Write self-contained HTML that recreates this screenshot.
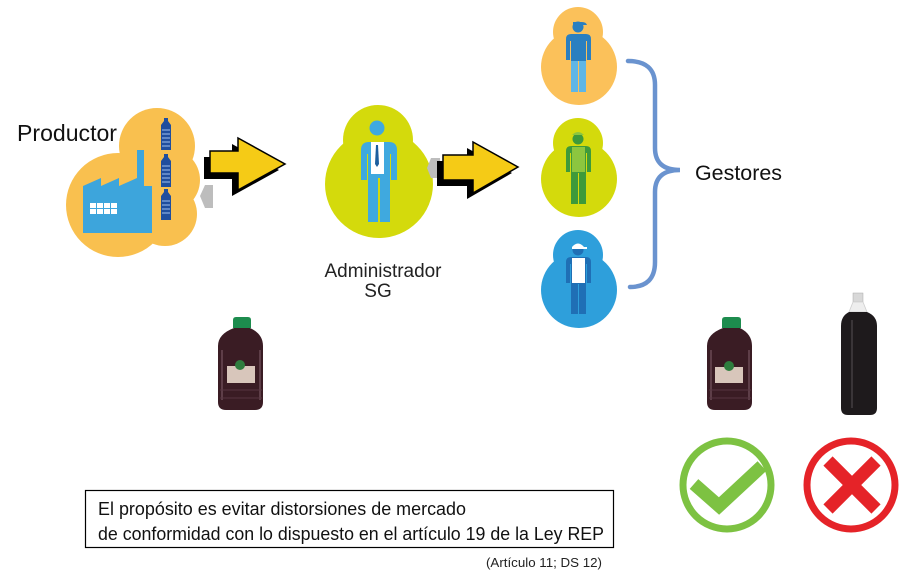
<!DOCTYPE html>
<html><head><meta charset="utf-8"><style>
html,body{margin:0;padding:0;background:#fff;}
svg{display:block;}
text{font-family:"Liberation Sans",Arial,sans-serif;}
</style></head><body>
<svg width="908" height="575" viewBox="0 0 908 575" xmlns="http://www.w3.org/2000/svg">
<rect width="908" height="575" fill="#ffffff"/>

<!-- Productor -->
<text x="17" y="141" font-size="23.5" fill="#111" textLength="100" lengthAdjust="spacingAndGlyphs">Productor</text>
<g fill="#F9C04F">
<circle cx="118" cy="205" r="52"/>
<circle cx="157" cy="146" r="38"/>
<circle cx="168" cy="180" r="32"/>
<circle cx="165" cy="214" r="32"/>
</g>
<!-- factory -->
<g fill="#3DA5DC">
<rect x="137" y="150" width="7" height="40"/>
<polygon points="83,192 83,186 101,178 101,186 119,178 119,186 137,178 137,186 152,186 152,233 83,233"/>
</g>
<g fill="#ffffff">
<rect x="90" y="203" width="6" height="5"/><rect x="97" y="203" width="6" height="5"/><rect x="104" y="203" width="6" height="5"/><rect x="111" y="203" width="6" height="5"/>
<rect x="90" y="209" width="6" height="5"/><rect x="97" y="209" width="6" height="5"/><rect x="104" y="209" width="6" height="5"/><rect x="111" y="209" width="6" height="5"/>
</g>
<!-- small bottles -->
<g fill="#1F4E9E">
<path d="M164,118 h4 v3 l3,4 v25 h-10 v-25 l3,-4z"/>
<path d="M164,154 h4 v3 l3,4 v26 h-10 v-26 l3,-4z"/>
<path d="M164,189 h4 v3 l3,4 v24 h-10 v-24 l3,-4z"/>
</g>
<g stroke="#9fc0ef" stroke-width="1">
<path d="M162,130 h8 M162,134 h8 M162,138 h8 M162,142 h8 M162,146 h8"/>
<path d="M162,166 h8 M162,170 h8 M162,174 h8 M162,178 h8 M162,182 h8"/>
<path d="M162,201 h8 M162,205 h8 M162,209 h8 M162,213 h8"/>
</g>
<!-- grey tab 1 -->
<polygon points="213,185 205,185 200,196 205,208 213,208" fill="#BDBDBD"/>
<!-- arrow 1 -->
<polygon points="204,157 232,157 232,144 279,170 232,196 232,179 204,179" fill="#000"/>
<polygon points="210,151 238,151 238,138 285,164 238,190 238,173 210,173" fill="#F5CB16" stroke="#000" stroke-width="1.5" stroke-linejoin="miter"/>

<!-- Administrador -->
<g fill="#D4DA0C">
<circle cx="379" cy="184" r="54"/>
<circle cx="378" cy="140" r="35"/>
</g>
<g fill="#3FA9DF">
<circle cx="377" cy="128" r="7.5"/>
<path d="M365,142 h24 q8,0 8,8 v30 h-6 v-26 h-1 v24 h-22 v-24 h-1 v26 h-6 v-30 q0,-8 8,-8z"/>
<rect x="368" y="174" width="10" height="48"/>
<rect x="380" y="174" width="10" height="48"/>
</g>
<rect x="371" y="142" width="13" height="32" fill="#fff"/>
<polygon points="376,145 378,145 379,164 377,167 375,164" fill="#1C5E9E"/>
<text x="383" y="277" font-size="19" fill="#222" text-anchor="middle" textLength="117" lengthAdjust="spacingAndGlyphs">Administrador</text>
<text x="378" y="297" font-size="19" fill="#222" text-anchor="middle">SG</text>

<!-- grey tab 2 -->
<polygon points="440,158 431,158 427,168 431,178 440,178" fill="#BDBDBD"/>
<!-- arrow 2 -->
<polygon points="437,161 467,161 467,148 512,173 467,199 467,186 437,186" fill="#000"/>
<polygon points="443,155 473,155 473,142 518,167 473,193 473,180 443,180" fill="#F5CB16" stroke="#000" stroke-width="1.5"/>

<!-- Gestores circles -->
<g fill="#FBC15A">
<circle cx="579" cy="67" r="38"/><circle cx="578" cy="32" r="25"/>
</g>
<g fill="#D4DA0C">
<circle cx="579" cy="179" r="38"/><circle cx="578" cy="143" r="25"/>
</g>
<g fill="#2E9FDB">
<circle cx="579" cy="290" r="38"/><circle cx="578" cy="255" r="25"/>
</g>
<!-- gestor 1 -->
<circle cx="578" cy="27" r="5.5" fill="#2A7FC0"/>
<path d="M573,22 h9 q4,0 5,3 h-14z" fill="#2A7FC0"/>
<path d="M571,34 h15 q5,0 5,5 v21 h-4 v-19 h-1 v20 h-15 v-20 h-1 v19 h-4 v-21 q0,-5 5,-5z" fill="#2A7FC0"/>
<rect x="571" y="61" width="7" height="31" fill="#5FB6E6"/>
<rect x="579" y="61" width="7" height="31" fill="#5FB6E6"/>
<!-- gestor 2 -->
<circle cx="578" cy="139" r="5.5" fill="#3E9A3A"/>
<path d="M572,135 q6,-6 12,0z" fill="#8CC63F"/>
<path d="M571,146 h15 q5,0 5,5 v21 h-4 v-19 h-1 v20 h-15 v-20 h-1 v19 h-4 v-21 q0,-5 5,-5z" fill="#3E9A3A"/>
<rect x="572" y="147" width="13" height="25" fill="#8CC63F"/>
<rect x="571" y="173" width="7" height="31" fill="#3E9A3A"/>
<rect x="579" y="173" width="7" height="31" fill="#3E9A3A"/>
<!-- gestor 3 -->
<circle cx="578" cy="250" r="5.5" fill="#1F6FB5"/>
<path d="M572,247 q6,-7 12,0 h3 v2 h-15z" fill="#ffffff"/>
<path d="M571,257 h15 q5,0 5,5 v21 h-4 v-19 h-1 v20 h-15 v-20 h-1 v19 h-4 v-21 q0,-5 5,-5z" fill="#1F6FB5"/>
<rect x="572" y="258" width="13" height="25" fill="#ffffff"/>
<rect x="571" y="284" width="7" height="30" fill="#1F6FB5"/>
<rect x="579" y="284" width="7" height="30" fill="#1F6FB5"/>

<!-- brace -->
<path d="M628,61 Q655,61 655,85 L655,148 Q655,170 680,170 Q655,170 655,192 L655,262 Q655,287 630,287" fill="none" stroke="#6A93CF" stroke-width="4.5" stroke-linecap="round"/>
<text x="695" y="180" font-size="21.5" fill="#111" textLength="87" lengthAdjust="spacingAndGlyphs">Gestores</text>

<!-- oil bottle left -->
<g>
<path d="M233,320 q0,-3 3,-3 h12 q3,0 3,3 v8 h-18z" fill="#1D8C4E"/>
<path d="M234,328 h16 q13,6 13,18 v56 q0,8 -8,8 h-29 q-8,0 -8,-8 v-56 q0,-12 16,-18z" fill="#3A1C24"/>
<path d="M222,350 v50 M260,350 v50" stroke="#6a4a55" stroke-width="1.5"/>
<path d="M220,390 h42 M220,398 h42" stroke="#55353f" stroke-width="1"/>
<rect x="227" y="366" width="28" height="17" fill="#D8C6BB"/>
<circle cx="240" cy="365" r="5" fill="#2E7D3E"/>
</g>
<!-- oil bottle right -->
<g>
<path d="M722,320 q0,-3 3,-3 h13 q3,0 3,3 v8 h-19z" fill="#1D8C4E"/>
<path d="M723,328 h17 q12,6 12,18 v56 q0,8 -8,8 h-29 q-8,0 -8,-8 v-56 q0,-12 16,-18z" fill="#3A1C24"/>
<path d="M711,350 v50 M749,350 v50" stroke="#6a4a55" stroke-width="1.5"/>
<path d="M709,390 h42 M709,398 h42" stroke="#55353f" stroke-width="1"/>
<rect x="715" y="367" width="28" height="16" fill="#D8C6BB"/>
<circle cx="729" cy="366" r="5" fill="#2E7D3E"/>
</g>
<!-- coke bottle -->
<g>
<rect x="853" y="293" width="10" height="9" fill="#d8d8d8" stroke="#aaa" stroke-width="0.5"/>
<path d="M853,302 h10 l4,10 h-18z" fill="#eeeeee" stroke="#cfcfcf" stroke-width="0.8"/>
<path d="M849,312 h18 q10,4 10,14 v82 q0,7 -7,7 h-22 q-7,0 -7,-7 v-82 q0,-10 8,-14z" fill="#1E1A1C"/>
<path d="M852,320 v88" stroke="#3a3538" stroke-width="2"/>
</g>

<!-- check -->
<circle cx="727" cy="485" r="44" fill="none" stroke="#7DC242" stroke-width="7"/>
<polyline points="694,484 719,506 762,466" fill="none" stroke="#7DC242" stroke-width="13" stroke-linejoin="miter"/>
<!-- cross -->
<circle cx="851" cy="485" r="44" fill="none" stroke="#E52328" stroke-width="7"/>
<path d="M828,461 L876,509 M876,461 L828,509" stroke="#E52328" stroke-width="13"/>

<!-- text box -->
<rect x="85.5" y="490.5" width="528" height="57" fill="#fff" stroke="#000" stroke-width="1.2"/>
<text x="98" y="515" font-size="18.5" fill="#111" textLength="368" lengthAdjust="spacingAndGlyphs">El propósito es evitar distorsiones de mercado</text>
<text x="98" y="540" font-size="18.5" fill="#111" textLength="506" lengthAdjust="spacingAndGlyphs">de conformidad con lo dispuesto en el artículo 19 de la Ley REP</text>
<text x="602" y="567" font-size="12.5" fill="#222" text-anchor="end" textLength="116" lengthAdjust="spacingAndGlyphs">(Artículo 11; DS 12)</text>
</svg>
</body></html>
